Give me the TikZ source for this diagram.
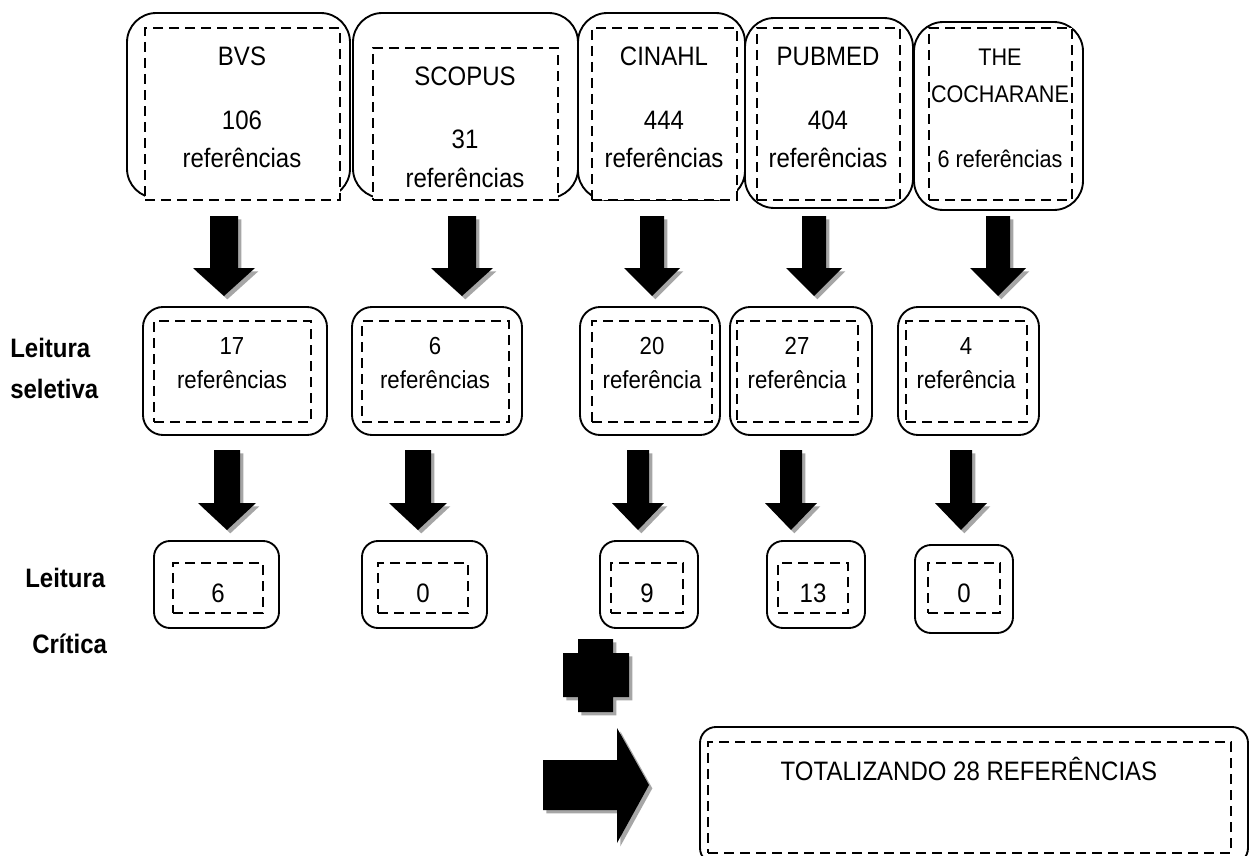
\documentclass[tikz,border=0pt]{standalone}
\usepackage{fontspec}
\setmainfont{Liberation Sans}[FakeStretch=0.9]
\usetikzlibrary{fit}
\tikzset{
  outerbox/.style={draw=black, line width=1.4pt, rounded corners=#1, inner sep=0pt},
  dashbox/.style={draw=black, fill=white, line width=2.1pt, dash pattern=on 7.5pt off 4.5pt, inner sep=0pt},
  lbl/.style={font=\fontsize{20}{24}\selectfont, inner sep=0pt, anchor=base},
  slbl/.style={font=\fontsize{18.5}{22}\selectfont, inner sep=0pt, anchor=base},
  clbl/.style={font=\fontsize{18}{21}\selectfont, inner sep=0pt, anchor=base},
  blbl/.style={font=\fontsize{20}{24}\selectfont\bfseries, inner sep=0pt, anchor=base west},
  blk/.style={fill=black},
  shd/.style={fill=black!35, xshift=2.5pt, yshift=-2.5pt},
}
\newcommand\myDownArrow[6]{% cx, top, base, tip, half shaft, half head
  \fill[shd] (#1-#5,#2) -- (#1+#5,#2) -- (#1+#5,#3) -- (#1+#6,#3) -- (#1,#4) -- (#1-#6,#3) -- (#1-#5,#3) -- cycle;
  \fill[blk] (#1-#5,#2) -- (#1+#5,#2) -- (#1+#5,#3) -- (#1+#6,#3) -- (#1,#4) -- (#1-#6,#3) -- (#1-#5,#3) -- cycle;
}
\begin{document}
\begin{tikzpicture}[x=0.75pt,y=-0.75pt]
\useasboundingbox[fill=white] (0,0) rectangle (1250,856);

% ---------- row 1 ----------
\node[outerbox=22pt, fit={(127,13) (350,198)}] (bvsA) {};
\node[outerbox=22pt, fit={(353,13) (578,198)}] (scoA) {};
\node[outerbox=22pt, fit={(578,13) (745,200)}] (cinA) {};
\node[outerbox=22pt, fit={(745,18) (913,208)}] (pubA) {};
\node[outerbox=22pt, fit={(914,22) (1083,210)}] (cocA) {};
\node[dashbox, fit={(145,28) (340,200)}] (bvsAi) {};
\node[dashbox, fit={(373,48) (558,200)}] (scoAi) {};
\node[dashbox, fit={(592,28) (737,200)}] (cinAi) {};
\node[dashbox, fit={(757,28) (900,200)}] (pubAi) {};
\node[dashbox, fit={(929,28) (1072,200)}] (cocAi) {};

\node[lbl] (tA1) at (242,65) {BVS};
\node[lbl] (tA2) at (242,129) {106};
\node[lbl] (tA3) at (242,167) {referências};
\node[lbl] (tB1) at (465,85) {SCOPUS};
\node[lbl] (tB2) at (465,148) {31};
\node[lbl] (tB3) at (465,187) {referências};
\node[lbl] (tC1) at (664,65) {CINAHL};
\node[lbl] (tC2) at (664,129) {444};
\node[lbl] (tC3) at (664,167) {referências};
\node[lbl] (tD1) at (828,65) {PUBMED};
\node[lbl] (tD2) at (828,129) {404};
\node[lbl] (tD3) at (828,167) {referências};
\node[clbl] (tE1) at (1000,65) {THE};
\node[clbl] (tE2) at (1000,103) {COCHARANE};
\node[clbl] (tE3) at (1000,167) {6 referências};

% ---------- arrows row 1 ----------
\myDownArrow{224}{216}{268}{296}{14}{31}
\myDownArrow{462}{216}{268}{296}{14}{31}
\myDownArrow{652}{216}{268}{296}{12}{28}
\myDownArrow{814}{216}{268}{296}{12}{28}
\myDownArrow{998}{216}{268}{296}{12}{28}

% ---------- row 2 ----------
\node[outerbox=15pt, fit={(143,307) (327,435)}] (bvsB) {};
\node[outerbox=15pt, fit={(352,307) (522,435)}] (scoB) {};
\node[outerbox=15pt, fit={(580,307) (720,435)}] (cinB) {};
\node[outerbox=15pt, fit={(730,307) (872,435)}] (pubB) {};
\node[outerbox=15pt, fit={(898,307) (1039,435)}] (cocB) {};
\node[dashbox, fit={(154,321) (311,422)}] (bvsBi) {};
\node[dashbox, fit={(362,321) (509,422)}] (scoBi) {};
\node[dashbox, fit={(592,321) (712,422)}] (cinBi) {};
\node[dashbox, fit={(737,321) (858,422)}] (pubBi) {};
\node[dashbox, fit={(906,321) (1027,422)}] (cocBi) {};

\node[slbl] (sA1) at (232,354) {17};
\node[slbl] (sA2) at (232,388) {referências};
\node[slbl] (sB1) at (435,354) {6};
\node[slbl] (sB2) at (435,388) {referências};
\node[slbl] (sC1) at (652,354) {20};
\node[slbl] (sC2) at (652,388) {referência};
\node[slbl] (sD1) at (797,354) {27};
\node[slbl] (sD2) at (797,388) {referência};
\node[slbl] (sE1) at (966,354) {4};
\node[slbl] (sE2) at (966,388) {referência};

\node[blbl] (lsel1) at (10,357) {Leitura};
\node[blbl] (lsel2) at (10,398) {seletiva};

% ---------- arrows row 2 ----------
\myDownArrow{227}{450}{503}{530}{13}{29}
\myDownArrow{418}{450}{503}{530}{13}{29}
\myDownArrow{638}{450}{503}{530}{11}{26}
\myDownArrow{791}{450}{503}{530}{11}{26}
\myDownArrow{961}{450}{503}{530}{11}{26}

% ---------- row 3 ----------
\node[outerbox=12pt, fit={(154,541) (279,628)}] (bvsC) {};
\node[outerbox=12pt, fit={(362,541) (487,628)}] (scoC) {};
\node[outerbox=12pt, fit={(600,541) (698,628)}] (cinC) {};
\node[outerbox=12pt, fit={(767,541) (865,628)}] (pubC) {};
\node[outerbox=12pt, fit={(915,545) (1013,633)}] (cocC) {};
\node[dashbox, fit={(173,563) (263,613)}] (bvsCi) {};
\node[dashbox, fit={(378,563) (468,613)}] (scoCi) {};
\node[dashbox, fit={(611,563) (683,613)}] (cinCi) {};
\node[dashbox, fit={(778,563) (848,613)}] (pubCi) {};
\node[dashbox, fit={(928,563) (1000,613)}] (cocCi) {};

\node[lbl] (cA) at (218,602) {6};
\node[lbl] (cB) at (423,602) {0};
\node[lbl] (cC) at (647,602) {9};
\node[lbl] (cD) at (813,602) {13};
\node[lbl] (cE) at (964,602) {0};

\node[blbl] (lcri1) at (25,587) {Leitura};
\node[blbl] (lcri2) at (32,653) {Crítica};

% ---------- plus ----------
\fill[shd] (578,639) -- (613,639) -- (613,653) -- (629,653) -- (629,697) -- (613,697) -- (613,712) -- (578,712) -- (578,697) -- (563,697) -- (563,653) -- (578,653) -- cycle;
\fill[blk] (578,639) -- (613,639) -- (613,653) -- (629,653) -- (629,697) -- (613,697) -- (613,712) -- (578,712) -- (578,697) -- (563,697) -- (563,653) -- (578,653) -- cycle;

% ---------- big right arrow ----------
\fill[shd] (543,760) -- (617,760) -- (617,728) -- (649,785) -- (617,843) -- (617,810) -- (543,810) -- cycle;
\fill[blk] (543,760) -- (617,760) -- (617,728) -- (649,785) -- (617,843) -- (617,810) -- (543,810) -- cycle;

% ---------- total ----------
\node[outerbox=12pt, fit={(700,727) (1248,864)}] (tot) {};
\node[dashbox, fit={(708,742) (1231,853)}] (toti) {};
\node[lbl] (tott) at (969,780) {TOTALIZANDO 28 REFERÊNCIAS};
\end{tikzpicture}
\end{document}
